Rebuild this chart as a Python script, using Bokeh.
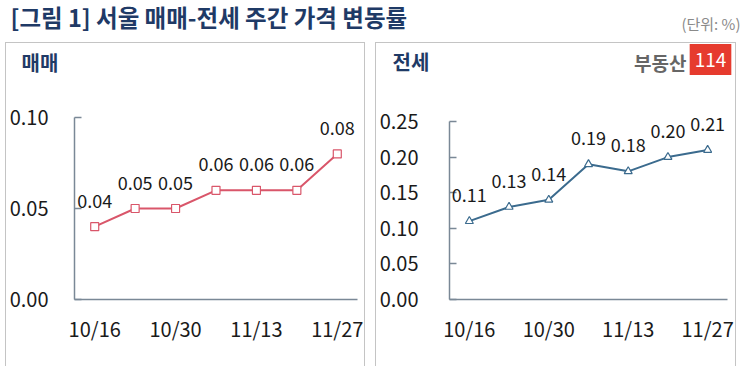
from bokeh.plotting import figure
from bokeh.models import (ColumnDataSource, LabelSet, Label, FixedTicker,
                          NumeralTickFormatter, Range1d, Spacer)
from bokeh.layouts import column, row
from bokeh.core.properties import value
from bokeh.embed import file_html
from bokeh.resources import INLINE

# ---- data ----
weeks = ["10/16", "10/23", "10/30", "11/06", "11/13", "11/20", "11/27"]
shown_weeks = ["10/16", "10/30", "11/13", "11/27"]
sale_values = [0.04, 0.05, 0.05, 0.06, 0.06, 0.06, 0.08]
jeonse_values = [0.11, 0.13, 0.14, 0.19, 0.18, 0.20, 0.21]
sale_ticks = [0.00, 0.05, 0.10]
jeonse_ticks = [0.00, 0.05, 0.10, 0.15, 0.20, 0.25]

title_text = "[그림 1] 서울 매매-전세 주간 가격 변동률"
unit_text = "(단위: %)"
sale_name = "매매"
jeonse_name = "전세"
logo_word = "부동산"
logo_num = "114"

FONT = "Noto Sans CJK KR"
AXIS_COLOR = "#7a8896"
TITLE_COLOR = "#1f3a66"
BORDER = "1px solid #c4c4c4"
CHART_H = 274
TOP_PAD = 5
BOTTOM_PAD = 67


def blank(width, height):
    f = figure(width=width, height=height, output_backend="svg", toolbar_location=None,
               x_range=Range1d(0, 1), y_range=Range1d(0, 1), min_border=0)
    f.axis.visible = False
    f.grid.visible = False
    f.outline_line_color = None
    f.frame_align = False
    return f


# ---- main header ----
hdr = blank(745, 42)
hdr.add_layout(Label(x=10, y=26, x_units="screen", y_units="screen", text=title_text,
                     text_font=FONT, text_font_size="23.5px", text_font_style="bold",
                     text_color=TITLE_COLOR, text_baseline="middle"))
hdr.add_layout(Label(x=740, y=19, x_units="screen", y_units="screen", text=unit_text,
                     text_font=FONT, text_font_size="15px", text_color="#8a8a8a",
                     text_align="right", text_baseline="middle"))


def panel(values, ticks, color, marker, name, width, left_border, right_border,
          axis_px, label_standoff, title_x, title_y, logo=False):
    # panel header
    ph = blank(width, 49)
    ph.add_layout(Label(x=title_x, y=title_y, x_units="screen", y_units="screen", text=name,
                        text_font=FONT, text_font_size="20px", text_font_style="bold",
                        text_color=TITLE_COLOR, text_baseline="middle"))
    if logo:
        ph.add_layout(Label(x=310, y=30, x_units="screen", y_units="screen", text=logo_word,
                            text_font=FONT, text_font_size="19px", text_font_style="bold",
                            text_color="#666666", text_baseline="middle", text_align="right"))
        ph.add_layout(Label(x=334, y=33, x_units="screen", y_units="screen", text=logo_num,
                            text_font=FONT, text_font_size="19px",
                            text_color="white", text_baseline="middle", text_align="center",
                            background_fill_color="#e63b2e",
                            padding=dict(left=5, right=5, top=9, bottom=8)))

    # frame extends a little above the top tick so labels are not clipped;
    # the axis line itself stops at the top tick (bounds)
    frame_h = CHART_H - TOP_PAD - BOTTOM_PAD
    y_top = max(ticks)
    y_end = y_top * frame_h / axis_px

    idx = list(range(len(values)))
    src = ColumnDataSource(dict(x=idx, y=values, lbl=["%.2f" % v for v in values]))
    p = figure(width=width, height=CHART_H, output_backend="svg", toolbar_location=None,
               x_range=Range1d(-0.5, len(values) - 0.5), y_range=Range1d(0, y_end),
               min_border_left=left_border, min_border_right=right_border,
               min_border_top=TOP_PAD, min_border_bottom=BOTTOM_PAD)
    p.frame_align = False
    p.grid.visible = False
    p.outline_line_color = None
    p.line("x", "y", source=src, line_color=color, line_width=2)
    p.scatter("x", "y", source=src, marker=marker, size=8, fill_color="white",
              line_color=color, line_width=1.2)
    p.add_layout(LabelSet(x="x", y="y", text="lbl", source=src, y_offset=19,
                          text_align="center", text_baseline="bottom",
                          text_font=value(FONT), text_font_size=value("18px"),
                          text_color="#1a1a1a"))
    xa = p.xaxis[0]
    xa.ticker = FixedTicker(ticks=[weeks.index(w) for w in shown_weeks])
    xa.major_label_overrides = {i: w for i, w in enumerate(weeks)}
    xa.major_tick_out = 0
    xa.major_tick_in = 0
    xa.minor_tick_out = 0
    xa.minor_tick_in = 0
    xa.axis_line_color = AXIS_COLOR
    xa.axis_line_width = 1.5
    xa.major_label_standoff = 14
    xa.major_label_text_font = FONT
    xa.major_label_text_font_size = "20px"
    xa.major_label_text_color = "#1a1a1a"
    ya = p.yaxis[0]
    ya.ticker = FixedTicker(ticks=ticks)
    ya.bounds = (0, y_top)
    ya.formatter = NumeralTickFormatter(format="0.00")
    ya.major_tick_out = 0
    ya.major_tick_in = 7
    ya.major_tick_line_color = AXIS_COLOR
    ya.major_tick_line_width = 1.5
    ya.minor_tick_out = 0
    ya.minor_tick_in = 0
    ya.axis_line_color = AXIS_COLOR
    ya.axis_line_width = 1.5
    ya.major_label_standoff = label_standoff
    ya.major_label_text_font = FONT
    ya.major_label_text_font_size = "20px"
    ya.major_label_text_color = "#1a1a1a"

    return column(ph, p, spacing=0,
                  styles={"border-top": BORDER, "border-left": BORDER, "border-right": BORDER})


left = panel(sale_values, sale_ticks, "#d9566a", "square", sale_name,
             358, 64, 7, 182, 26, 15, 30)
right = panel(jeonse_values, jeonse_ticks, "#3b6b8e", "triangle", jeonse_name,
              359, 69, 8, 178, 31, 16, 31, logo=True)

layout = column(hdr, row(Spacer(width=5), left, Spacer(width=10), right, spacing=0), spacing=0)

open("out.html", "w").write(file_html(layout, INLINE))
